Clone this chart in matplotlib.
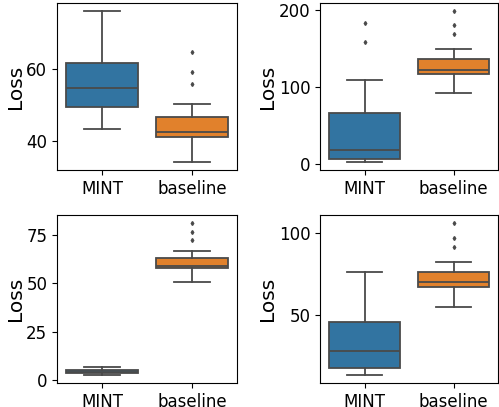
import matplotlib
matplotlib.use("Agg")
import matplotlib.pyplot as plt

# =============================================================================
# DATA  (box stats: whislo, q1, med, q3, whishi, fliers)
# =============================================================================
groups = ["MINT", "baseline"]

p1_mint = [43.3, 49.5, 54.8, 61.6, 76.3]
p1_mint_fliers = []
p1_base = [33.9, 41.0, 42.4, 46.5, 50.2]
p1_base_fliers = [55.9, 59.2, 64.8]

p2_mint = [2.1, 6.9, 17.6, 66.3, 109.5]
p2_mint_fliers = [158.5, 182.7]
p2_base = [92.0, 116.6, 121.8, 135.6, 148.6]
p2_base_fliers = [168.0, 179.7, 199.0]

p3_mint = [2.4, 3.5, 4.1, 5.2, 6.9]
p3_mint_fliers = []
p3_base = [50.7, 57.8, 59.2, 63.3, 66.9]
p3_base_fliers = [72.3, 76.9, 81.5]

p4_mint = [13.5, 18.2, 28.2, 46.2, 76.2]
p4_mint_fliers = []
p4_base = [55.3, 67.4, 70.6, 76.7, 82.6]
p4_base_fliers = [91.7, 97.4, 106.5]

panels = [
    (p1_mint, p1_mint_fliers, p1_base, p1_base_fliers, [40, 60]),
    (p2_mint, p2_mint_fliers, p2_base, p2_base_fliers, [0, 100, 200]),
    (p3_mint, p3_mint_fliers, p3_base, p3_base_fliers, [0, 25, 50, 75]),
    (p4_mint, p4_mint_fliers, p4_base, p4_base_fliers, [50, 100]),
]

# =============================================================================
# STYLE
# =============================================================================
BOX_COLORS = ["#3274a1", "#e1812c"]
LINE = "#4a4a4a"

# axes rectangles in pixels (left, top, right, bottom) of a 499x407 canvas
W, H = 499, 407
RECTS = [(57, 3, 237, 170), (320, 3, 498, 170),
         (57, 215, 237, 383), (320, 215, 498, 383)]


def to_stats(vals, fliers, label):
    lo, q1, med, q3, hi = vals
    return dict(whislo=lo, q1=q1, med=med, q3=q3, whishi=hi, fliers=fliers, label=label)


fig = plt.figure(figsize=(W / 100, H / 100), dpi=100)

for (mint, mint_f, base, base_f, ticks), (l, t, r, b) in zip(panels, RECTS):
    ax = fig.add_axes([l / W, 1 - b / H, (r - l) / W, (b - t) / H])
    stats = [to_stats(mint, mint_f, groups[0]), to_stats(base, base_f, groups[1])]
    bp = ax.bxp(stats, positions=[0, 1], widths=0.8, patch_artist=True,
                boxprops=dict(edgecolor=LINE, linewidth=1.3),
                whiskerprops=dict(color=LINE, linewidth=1.3),
                capprops=dict(color=LINE, linewidth=1.3),
                medianprops=dict(color=LINE, linewidth=1.3),
                flierprops=dict(marker="d", markersize=2, markerfacecolor=LINE,
                                markeredgecolor=LINE))
    for patch, c in zip(bp["boxes"], BOX_COLORS):
        patch.set_facecolor(c)
    ax.set_xlim(-0.5, 1.5)
    ax.set_xticks([0, 1])
    ax.set_xticklabels(groups)
    ax.set_yticks(ticks)
    ax.tick_params(labelsize=12)
    ax.set_ylabel("Loss", fontsize=14.5, labelpad=1)

fig.savefig("out.png", dpi=100, facecolor="white")
